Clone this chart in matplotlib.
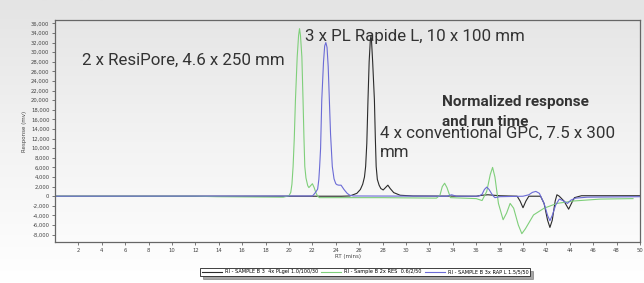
import matplotlib
matplotlib.use("Agg")
import matplotlib.pyplot as plt
import numpy as np
from matplotlib.ticker import FuncFormatter

# traces: retention time (min), response (thousand mv)
green_rt = [0, 12, 13.9, 19.5, 20.0, 20.15, 20.25, 20.35, 20.45, 20.55, 20.7, 20.82, 20.9,
            20.98, 21.1, 21.2, 21.28, 21.35, 21.45, 21.6, 21.7, 21.85, 22.0, 22.15, 22.3,
            22.45, 22.6, 28, 32.6, 32.9, 33.1, 33.3, 33.5, 33.8, 36.0, 36.5, 36.9, 37.2,
            37.4, 37.6, 37.9, 38.3, 38.6, 38.9, 39.2, 39.6, 39.9, 40.2, 40.9, 41.8, 42.9,
            44.3, 46.6, 49.4]
green_resp = [0, 0, -0.1, -0.2, 0.1, 0.8, 2.5, 6.2, 12, 20, 29, 33.5, 34.9,
              33.5, 29, 20, 12, 6.2, 3.8, 2.2, 1.8, 2.2, 2.6, 1.8, 0.7,
              0.0, -0.3, -0.3, -0.4, 0.2, 2.0, 2.7, 1.8, -0.3, -0.5, -0.9, 1.0, 4.5,
              6.0, 4.0, -1.5, -4.9, -3.5, -1.5, -2.5, -6.0, -7.8, -6.8, -3.9, -2.5, -1.5,
              -1.0, -0.6, -0.5]

blue_rt = [0, 22.0, 22.1, 22.3, 22.45, 22.55, 22.62, 22.7, 22.8, 22.95, 23.05, 23.15, 23.25,
           23.35, 23.45, 23.55, 23.7, 23.85, 24.0, 24.1, 24.25, 24.45, 24.7, 24.97, 25.2,
           25.5, 33.5, 33.9, 34.3, 36.2, 36.5, 36.7, 36.9, 37.1, 37.4, 37.6, 38.0, 40.0,
           40.5, 40.8, 41.1, 41.4, 41.8, 42.1, 42.3, 42.5, 42.8, 43.1, 43.4, 43.8, 44.1,
           44.5, 45.5, 50]
blue_resp = [0, 0.05, 0.3, 0.9, 1.5, 3.5, 6.2, 10, 20, 28, 31.3, 32.0, 31.0,
             27, 20, 13, 6.2, 3.6, 2.6, 2.4, 2.3, 2.3, 1.4, 0.6, 0.2,
             0.05, 0.0, 0.3, 0.0, 0.0, 0.4, 1.4, 1.9, 1.4, 0.2, -0.3, -0.1, 0.0,
             0.3, 0.8, 1.0, 0.6, -1.5, -4.0, -5.1, -4.0, -1.8, -0.6, -0.9, -1.5, -0.8,
             -0.4, -0.2, -0.1]

black_rt = [0, 24.5, 25.2, 25.8, 26.1, 26.3, 26.45, 26.55, 26.65, 26.75, 26.85, 26.95, 27.0,
            27.05, 27.15, 27.3, 27.38, 27.45, 27.55, 27.7, 27.85, 28.05, 28.25, 28.45, 28.65,
            28.95, 29.5, 30.6, 36.0, 36.5, 37.0, 38, 39.5, 39.75, 40.0, 40.25, 40.5, 41.5,
            41.8, 42.1, 42.3, 42.5, 42.75, 42.9, 43.1, 43.5, 43.9, 44.2, 44.4, 45.0, 50]
black_resp = [0, 0.0, 0.05, 0.6, 1.4, 2.5, 4.0, 6.2, 11, 20, 28, 32.5, 33.3,
              32.5, 28, 20, 12, 6.2, 3.5, 2.3, 1.6, 1.3, 1.8, 2.3, 1.6,
              0.75, 0.2, 0.05, 0.0, 0.2, 0.3, 0.1, 0.0, -1.0, -2.4, -1.0, 0.0, 0.0,
              -1.5, -5.0, -6.5, -5.0, -1.0, 0.3, 0.0, -1.0, -2.7, -1.2, -0.3, 0.1, 0.1]

legend_labels = ["RI - SAMPLE B 3  4x PLgel 1.0/100/30",
                 "RI - Sample B 2x RES  0.6/2/50",
                 "RI - SAMPLE B 3x RAP L 1.5/5/50"]

narrow = ["Roboto", "DejaVu Sans"]

fig = plt.figure(figsize=(6.44, 2.83), dpi=100)

# soft grey-to-white background
bg = fig.add_axes([0, 0, 1, 1], zorder=-1)
grad = np.linspace(0, 1, 256).reshape(-1, 1)
bg.imshow(grad, aspect="auto", cmap=matplotlib.colors.LinearSegmentedColormap.from_list(
    "bg", ["#e4e4e4", "#f3f3f3", "#ffffff"]), extent=[0, 1, 0, 1])
bg.axis("off")

ax = fig.add_axes([0.0854, 0.1438, 0.9084, 0.7855])
ax.set_facecolor("none")

l1, = ax.plot(black_rt, np.array(black_resp) * 1000, color="#2b2b2b", lw=0.8)
l2, = ax.plot(green_rt, np.array(green_resp) * 1000, color="#7fcf7a", lw=0.8)
l3, = ax.plot(blue_rt, np.array(blue_resp) * 1000, color="#6b6bd6", lw=0.8)

ax.set_xlim(0, 50)
ax.set_ylim(-9600, 36700)
ax.set_xticks(range(2, 51, 2))
ax.set_yticks(range(-8000, 36001, 2000))
ax.yaxis.set_major_formatter(FuncFormatter(lambda v, p: f"{int(v):,}"))
ax.tick_params(labelsize=3.8, colors="#444444", length=2, width=0.5, pad=2)
for s in ax.spines.values():
    s.set_color("#666666")
    s.set_linewidth(0.9)

ax.set_xlabel("RT (mins)", fontsize=4, color="#444444", labelpad=1)
ax.set_ylabel("Response (mv)", fontsize=4, color="#444444", labelpad=3)

# annotations
fig.text(82 / 644, 1 - 60 / 283, "2 x ResiPore, 4.6 x 250 mm", fontsize=12.2,
         family=narrow, color="#333333", va="center")
fig.text(305 / 644, 1 - 36 / 283, "3 x PL Rapide L, 10 x 100 mm", fontsize=12.2,
         family=narrow, color="#333333", va="center")
fig.text(380 / 644, 1 - 143 / 283, "4 x conventional GPC, 7.5 x 300\nmm", fontsize=12.2,
         family=narrow, color="#333333", va="center", linespacing=1.4)
fig.text(442 / 644, 1 - 112 / 283, "Normalized response\nand run time", fontsize=11,
         family=narrow, weight="bold", color="#333333", va="center", linespacing=1.5)

leg = fig.legend([l1, l2, l3], legend_labels, loc="center",
                 bbox_to_anchor=(365 / 644, 1 - 272 / 283), ncol=3, fontsize=3.6,
                 frameon=True, fancybox=False, shadow=True, handlelength=4,
                 columnspacing=0.6, handletextpad=0.6, borderpad=0.3)
leg.get_frame().set_edgecolor("#222222")
leg.get_frame().set_linewidth(0.6)

fig.savefig("out.png", dpi=100)
